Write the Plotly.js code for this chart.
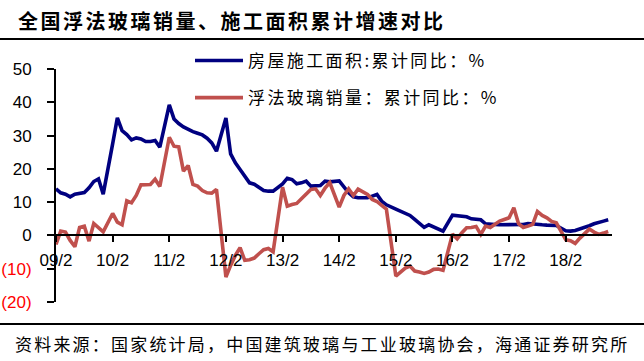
<!DOCTYPE html>
<html>
<head>
<meta charset="utf-8">
<script src="https://cdn.plot.ly/plotly-3.0.1.min.js"></script>
<style>
  html, body { margin: 0; padding: 0; background: #fff; }
  #chart { width: 644px; height: 361px; }
  .gtitle { letter-spacing: 2.5px; }
  .legendtext { letter-spacing: 2.4px; }
  .annotation-text { letter-spacing: 2.2px; }
</style>
</head>
<body>
<div id="chart"></div>
<script>
// Years covered; monthly data from Feb to Dec (no January), ending 2018-11
const years = [2009, 2010, 2011, 2012, 2013, 2014, 2015, 2016, 2017, 2018];
const lastMonth2018 = 11;

// 房屋施工面积:累计同比 (%), Feb..Dec per year
const construction2009 = [14.0, 12.8, 12.4, 11.6, 12.4, 12.6, 12.9, 14.3, 16.2, 17.0, 12.4];
const construction2010 = [27.5, 35.3, 31.5, 30.3, 28.7, 29.3, 29.0, 28.2, 28.2, 28.5, 26.5];
const construction2011 = [39.2, 35.0, 33.6, 32.6, 31.8, 31.2, 30.7, 30.2, 29.2, 27.8, 25.3];
const construction2012 = [35.3, 24.5, 21.8, 19.8, 17.6, 15.8, 15.4, 14.5, 13.5, 13.3, 13.3];
const construction2013 = [15.5, 17.2, 16.8, 15.5, 15.8, 16.3, 14.8, 14.8, 15.0, 16.3, 16.1];
const construction2014 = [16.4, 14.5, 12.8, 11.6, 11.3, 11.3, 11.3, 11.8, 12.3, 10.3, 9.2];
const construction2015 = [7.9, 7.2, 6.5, 6.0, 4.8, 3.6, 2.4, 3.2, 2.6, 1.8, 1.3];
const construction2016 = [6.1, 5.9, 5.8, 5.6, 5.0, 4.8, 4.7, 3.5, 3.3, 3.3, 3.2];
const construction2017 = [3.2, 3.1, 3.1, 3.3, 3.6, 3.4, 3.3, 3.2, 3.1, 3.1, 3.0];
const construction2018 = [1.4, 1.3, 1.5, 1.9, 2.3, 2.9, 3.5, 4.0, 4.3, 4.7];

// 浮法玻璃销量:累计同比 (%), Feb..Dec per year
const glass2009 = [-2.7, 1.3, 1.0, -1.5, -3.4, 2.4, 2.8, -1.7, 3.6, 2.2, 1.1];
const glass2010 = [6.6, 4.0, 3.2, 10.4, 9.8, 12.0, 15.2, 15.3, 15.3, 16.9, 14.7];
const glass2011 = [29.5, 26.8, 26.6, 19.3, 21.0, 15.3, 14.8, 13.5, 12.8, 12.7, 13.8];
const glass2012 = [-12.5, -9.0, -6.0, -3.7, -7.5, -7.3, -6.8, -5.5, -4.3, -3.9, -4.9];
const glass2013 = [14.5, 8.8, 9.3, 9.6, 11.0, 12.5, 13.8, 14.0, 12.0, 14.2, 15.9];
const glass2014 = [8.5, 12.0, 14.0, 12.0, 13.9, 13.0, 12.3, 10.8, 10.2, 9.0, 7.9];
const glass2015 = [-12.2, -11.0, -9.8, -9.2, -10.7, -11.0, -11.4, -11.0, -10.2, -10.1, -10.5];
const glass2016 = [0.4, -1.0, 0.8, 2.3, 2.4, 2.7, 0.3, 2.8, 2.4, 3.5, 4.3];
const glass2017 = [5.3, 8.3, 3.5, 2.4, 2.8, 3.3, 7.2, 6.0, 5.3, 4.2, 3.8];
const glass2018 = [-1.3, -1.6, -2.4, -0.8, 0.5, 1.9, 1.0, 0.3, 0.7, 1.2];

const tickLabels = ['09/2', '10/2', '11/2', '12/2', '13/2', '14/2', '15/2', '16/2', '17/2', '18/2'];
const yTickVals = [-20, -10, 0, 10, 20, 30, 40, 50];
const yTickLabels = ['(20)', '(10)', '0', '10', '20', '30', '40', '50'];

const constructionName = '房屋施工面积:累计同比：%';
const glassName = '浮法玻璃销量：累计同比：%';
const titleText = '全国浮法玻璃销量、施工面积累计增速对比';
const sourceText = '资料来源：国家统计局，中国建筑玻璃与工业玻璃协会，海通证券研究所';

// Month position on a uniform monthly scale (Feb 2009 = 0)
function monthIndex(y, mo) { return (y - 2009) * 12 + (mo - 2); }

const xs = [];
years.forEach(y => {
  const end = (y === 2018) ? lastMonth2018 : 12;
  for (let mo = 2; mo <= end; mo++) xs.push(monthIndex(y, mo));
});
const construction = [].concat(construction2009, construction2010, construction2011, construction2012,
  construction2013, construction2014, construction2015, construction2016, construction2017, construction2018);
const glass = [].concat(glass2009, glass2010, glass2011, glass2012, glass2013,
  glass2014, glass2015, glass2016, glass2017, glass2018);

const tickVals = years.map(y => monthIndex(y, 2));
const yTickText = yTickVals.map((v, i) => v < 0
  ? '<span style="color:#ff0000">' + yTickLabels[i] + '</span>' : yTickLabels[i]);

const W = 644, H = 361;
const L = 56, R = 612, T = 69, B = 302;
const px = x => (x - L) / (R - L);
const py = y => (B - y) / (B - T);

const cjk = 'Noto Sans CJK SC, sans-serif';
const latin = 'Liberation Sans, Arial, sans-serif';

const traces = [
  { x: xs, y: construction, type: 'scatter', mode: 'lines', name: constructionName,
    legendgroup: 'a', line: { color: '#000080', width: 3.6 }, hoverinfo: 'y' },
  { x: xs, y: glass, type: 'scatter', mode: 'lines', name: glassName,
    legendgroup: 'b', line: { color: '#C0504D', width: 3.6 }, hoverinfo: 'y' }
];

const layout = {
  width: W, height: H,
  margin: { l: L, r: W - R, t: T, b: H - B, pad: 0 },
  paper_bgcolor: '#ffffff', plot_bgcolor: '#ffffff',
  title: { text: titleText, x: 18 / W, xref: 'container', xanchor: 'left',
    y: 1 - 22 / H, yref: 'container', yanchor: 'middle',
    font: { family: cjk, size: 20, weight: 'bold', color: '#000' } },
  showlegend: true,
  legend: { x: px(190), y: py(43), xanchor: 'left', yanchor: 'top',
    bgcolor: 'rgba(0,0,0,0)', borderwidth: 0, tracegroupgap: 12, itemwidth: 48,
    font: { family: cjk, size: 17, color: '#000' } },
  xaxis: {
    range: [0, 117.8], anchor: 'free', position: 20 / 70,
    showline: true, linecolor: '#000', linewidth: 2,
    ticks: 'outside', ticklen: 6, tickwidth: 2, tickcolor: '#000',
    tickvals: tickVals, ticktext: tickLabels, ticklabelstandoff: 3,
    showgrid: false, zeroline: false,
    tickfont: { family: latin, size: 17, color: '#000' }
  },
  yaxis: {
    range: [-20, 50], showline: true, linecolor: '#000', linewidth: 2,
    ticks: 'outside', ticklen: 7, tickwidth: 2, tickcolor: '#000',
    tickvals: yTickVals, ticktext: yTickText, ticklabelstandoff: 12,
    showgrid: false, zeroline: false,
    tickfont: { family: latin, size: 17, color: '#000' }
  },
  shapes: [
    { type: 'line', xref: 'paper', yref: 'paper', x0: px(0), x1: px(W), y0: py(39), y1: py(39),
      line: { color: '#000', width: 2 } },
    { type: 'line', xref: 'paper', yref: 'paper', x0: px(0), x1: px(W), y0: py(324), y1: py(324),
      line: { color: '#000', width: 2 } }
  ],
  annotations: [
    { text: sourceText, xref: 'paper', yref: 'paper', x: px(13), y: py(343),
      xanchor: 'left', yanchor: 'middle', showarrow: false,
      font: { family: cjk, size: 17, color: '#000' } }
  ]
};

Plotly.newPlot('chart', traces, layout, { staticPlot: true, displayModeBar: false });
</script>
</body>
</html>
